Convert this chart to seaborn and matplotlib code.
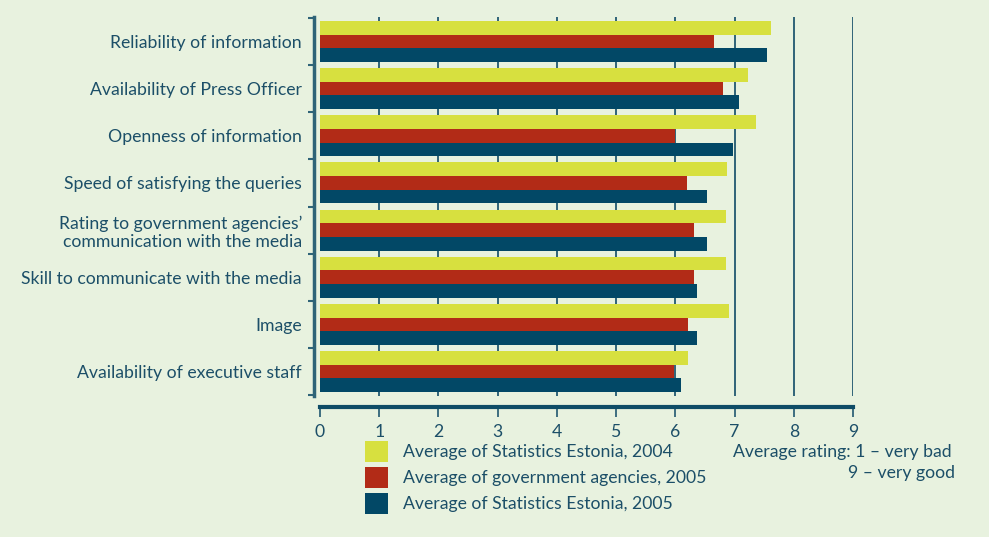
import numpy as np
import pandas as pd
import matplotlib
matplotlib.use('Agg')
import matplotlib.pyplot as plt
import seaborn as sns
from matplotlib.patches import Patch

# Data
categories = [
    'Reliability of information',
    'Availability of Press Officer',
    'Openness of information',
    'Speed of satisfying the queries',
    'Rating to government agencies\u2019\ncommunication with the media',
    'Skill to communicate with the media',
    'Image',
    'Availability of executive staff',
]
series_names = [
    'Average of Statistics Estonia, 2004',
    'Average of government agencies, 2005',
    'Average of Statistics Estonia, 2005',
]
stat_2004 = [7.62, 7.23, 7.37, 6.88, 6.86, 6.86, 6.91, 6.22]
gov_2005 = [6.66, 6.81, 5.99, 6.19, 6.32, 6.32, 6.21, 5.97]
stat_2005 = [7.54, 7.07, 6.98, 6.54, 6.53, 6.37, 6.37, 6.10]
x_ticks = list(range(0, 10))

colors = ['#D7E03F', '#B22B17', '#024866']
bg = '#E8F2DF'
text_c = '#1C4F68'
grid_c = '#2F6478'
fs = 12.7

df = pd.DataFrame({
    'category': categories * 3,
    'series': [series_names[0]] * 8 + [series_names[1]] * 8 + [series_names[2]] * 8,
    'value': stat_2004 + gov_2005 + stat_2005,
})

sns.set_theme(style='white')
plt.rcParams['font.family'] = ['Lato', 'DejaVu Sans']
plt.rcParams['text.color'] = text_c

fig = plt.figure(figsize=(9.89, 5.37), dpi=100, facecolor=bg)
ax = fig.add_axes([320 / 989, 1 - 396 / 537, 533 / 989, 379 / 537])
ax.set_facecolor(bg)

# vertical grid lines behind bars
for t in x_ticks[1:]:
    ax.axvline(t, color=grid_c, lw=1.4, zorder=0)

sns.barplot(data=df, y='category', x='value', hue='series', orient='h',
            palette=colors, width=0.87, saturation=1, ax=ax, legend=False,
            linewidth=0, edgecolor='none', zorder=2)

ax.set_xlim(0, 9)
ax.set_ylim(7.52, -0.52)
ax.set_xlabel('')
ax.set_ylabel('')

# spines
for s in ['top', 'right']:
    ax.spines[s].set_visible(False)
ax.spines['left'].set_position(('outward', 4))
ax.spines['left'].set_color(grid_c)
ax.spines['left'].set_linewidth(2.5)
ax.spines['bottom'].set_position(('outward', 8))
ax.spines['bottom'].set_color('#0E4C66')
ax.spines['bottom'].set_linewidth(3)
ax.spines['bottom'].set_bounds(0, 9)

ax.set_xticks(x_ticks)
ax.tick_params(axis='x', direction='out', length=7, width=1.3, color=grid_c,
               bottom=True, labelsize=fs, labelcolor=text_c, pad=5)
ax.set_yticks(range(len(categories)))
ax.set_yticklabels(categories)
ax.tick_params(axis='y', length=0, labelsize=fs, labelcolor=text_c, pad=9)
ax.set_yticks(np.arange(-0.5, len(categories)), minor=True)
ax.tick_params(axis='y', which='minor', direction='out', length=4, width=1.5,
               color=grid_c, left=True)

# legend
handles = [Patch(facecolor=c, edgecolor='none') for c in colors]
leg = fig.legend(handles, series_names, loc='upper left',
                 bbox_to_anchor=(349 / 989, 1 - 425 / 537), frameon=False,
                 fontsize=fs, handlelength=1.3, handleheight=1.5,
                 labelspacing=0.25, handletextpad=0.85, labelcolor=text_c)

fig.text(733 / 989, 1 - 452 / 537, 'Average rating: 1 \u2013 very bad',
         fontsize=fs, color=text_c, va='center', ha='left')
fig.text(848 / 989, 1 - 473 / 537, '9 \u2013 very good',
         fontsize=fs, color=text_c, va='center', ha='left')

fig.savefig('out.png', dpi=100, facecolor=bg)
